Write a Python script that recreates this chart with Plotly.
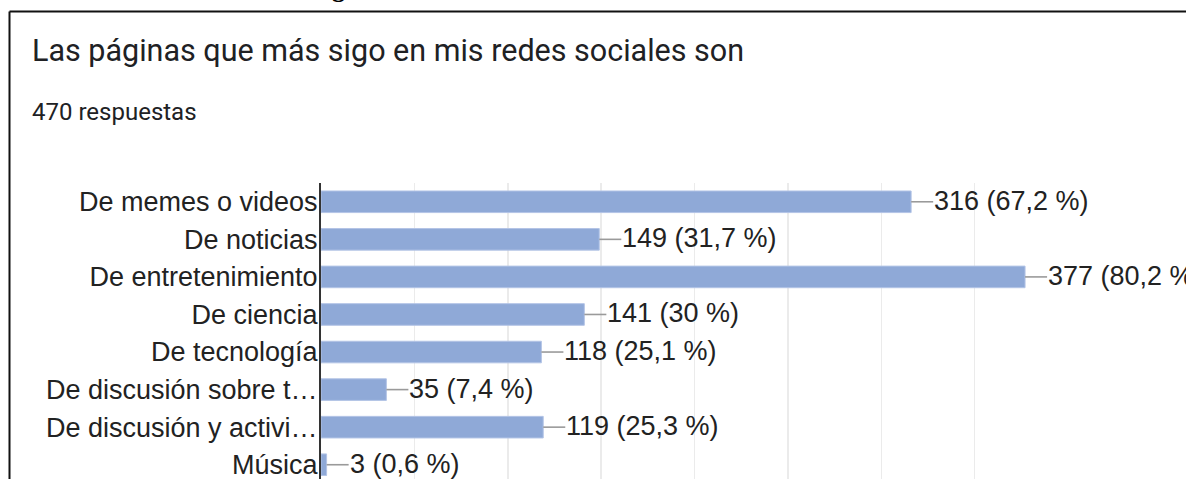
import plotly.graph_objects as go

# ---- data ----
categories = [
    "De memes o videos",
    "De noticias",
    "De entretenimiento",
    "De ciencia",
    "De tecnología",
    "De discusión sobre t…",
    "De discusión y activi…",
    "Música",
]
counts = [316, 149, 377, 141, 118, 35, 119, 3]
percents = ["67,2", "31,7", "80,2", "30", "25,1", "7,4", "25,3", "0,6"]
title_text = "Las páginas que más sigo en mis redes sociales son"
subtitle_text = "470 respuestas"
x_ticks = [0, 50, 100, 150, 200, 250, 300, 350, 400]

# ---- geometry ----
W, H = 1186, 479
L, R, T, B = 321, 118, 183, 0
PW, PH = W - L - R, H - T - B


def px_x(px):
    return (px - L) / PW


def px_y(py):
    return (H - B - py) / PH


LEAD = 11.8  # leader length in data units

fig = go.Figure()
fig.add_trace(go.Bar(
    x=counts,
    y=categories,
    orientation="h",
    marker=dict(color="#8FA9D7", line=dict(color="#B3C4E6", width=1)),
    error_x=dict(type="data", symmetric=False, array=[LEAD] * len(counts),
                 arrayminus=[0] * len(counts), width=0, thickness=1.6,
                 color="#9A9A9A"),
    hoverinfo="skip",
))

for c, v, p in zip(categories, counts, percents):
    fig.add_annotation(
        x=v + LEAD, y=c, xref="x", yref="y",
        text=f"{v} ({p} %)", showarrow=False,
        xanchor="left", yanchor="middle", xshift=-1, yshift=1,
        font=dict(family="Liberation Sans, Arial", size=27, color="#222222"),
    )

# title and subtitle
fig.add_annotation(
    x=px_x(30), y=px_y(50), xref="paper", yref="paper",
    text=title_text, showarrow=False, xanchor="left", yanchor="middle",
    font=dict(family="Roboto", size=30.5, color="#202124"),
)
fig.add_annotation(
    x=px_x(30), y=px_y(112), xref="paper", yref="paper",
    text=subtitle_text, showarrow=False, xanchor="left", yanchor="middle",
    font=dict(family="Roboto", size=24, color="#202124"),
)
# partial document text at very top
fig.add_annotation(
    x=px_x(330), y=px_y(-12), xref="paper", yref="paper",
    text="<b>g</b>", showarrow=False, xanchor="left", yanchor="middle",
    font=dict(family="Liberation Serif", size=26, color="#000000"),
)

# document frame lines
fig.add_shape(type="line", xref="paper", yref="paper",
              x0=px_x(9.5), x1=px_x(W + 5), y0=px_y(11.5), y1=px_y(11.5),
              line=dict(color="#111111", width=2))
fig.add_shape(type="line", xref="paper", yref="paper",
              x0=px_x(9.5), x1=px_x(9.5), y0=px_y(11.5), y1=px_y(H + 5),
              line=dict(color="#111111", width=2))

fig.update_layout(
    width=W, height=H,
    margin=dict(l=L, r=R, t=T, b=B, pad=0),
    paper_bgcolor="white", plot_bgcolor="white",
    showlegend=False,
    bargap=0.425,
    font=dict(family="Liberation Sans, Arial", color="#222222"),
)
fig.update_xaxes(
    range=[0, 400], tickvals=x_ticks, showticklabels=False,
    showgrid=True, gridcolor="#EBEBEB", gridwidth=1.5,
    zeroline=False, showline=False, fixedrange=True,
)
fig.update_yaxes(
    type="category", range=[7.38, -0.5], autorange=False,
    showgrid=False, zeroline=False,
    showline=True, linecolor="#333333", linewidth=2,
    ticks="", ticklabelstandoff=-4,
    tickfont=dict(family="Liberation Sans, Arial", size=27, color="#222222"),
)

fig.write_html(
    "out.html",
    config={"displayModeBar": False, "staticPlot": True},
    post_script="document.body.style.margin='0';document.body.style.overflow='hidden';",
)
